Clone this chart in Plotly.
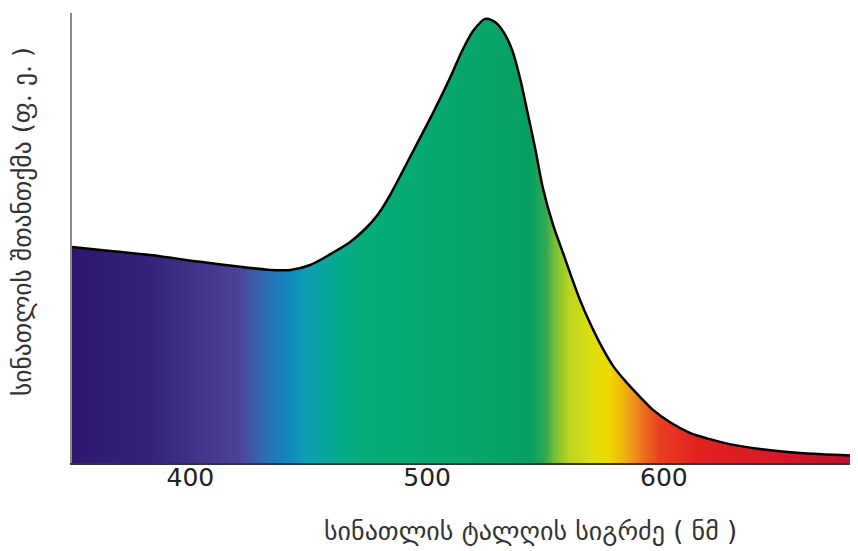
import plotly.graph_objects as go

# Data
wavelength_nm = [350.0, 366.2, 383.1, 404.2, 421.1, 433.8, 442.2, 450.6, 459.1, 467.5, 473.8,
                 479.3, 484.4, 492.8, 502.5, 509.7, 514.8, 519.4, 524.5, 528.7, 532.5, 535.9,
                 539.2, 542.2, 545.6, 548.9, 553.2, 557.4, 560.8, 564.6, 568.8, 573.8, 578.9,
                 584.4, 589.9, 595.4, 602.5, 611.0, 619.4, 627.8, 640.5, 657.4, 682.0]
absorbance = [48.0, 47.1, 46.2, 44.7, 43.6, 42.9, 42.9, 44.0, 46.4, 49.1, 52.0,
              55.3, 59.6, 68.0, 77.8, 85.6, 91.6, 96.0, 98.7, 98.0, 95.6, 91.8,
              85.6, 78.4, 70.0, 61.1, 52.9, 46.7, 41.6, 36.2, 31.1, 25.8, 21.3,
              17.8, 14.7, 11.8, 9.1, 6.7, 5.3, 4.2, 3.1, 2.2, 1.6]
x_ticks = [400, 500, 600]
x_title = "სინათლის ტალღის სიგრძე ( ნმ )"
y_title = "სინათლის შთანთქმა (ფ. ე. )"

# spectrum colour stops (style)
grad_nm = [350, 383, 404, 421, 427, 434, 442, 448.5, 459, 472, 510, 543.5, 550, 554, 560,
           569, 577, 583.5, 590, 598, 615, 649, 682]
grad_col = ["#2d186e", "#35227a", "#42358a", "#4c4399", "#3d5ba8", "#2575b5", "#1288c0",
            "#0e9eb5", "#06a896", "#05ad7a", "#07a86d", "#07a062", "#30a850", "#78be35",
            "#bcd520", "#dcdf10", "#eed800", "#f2b010", "#f07a20", "#e84020", "#e02020",
            "#d81828", "#b81030"]
x0, x1 = 350, 682
colorscale = [[(v - x0) / (x1 - x0), c] for v, c in zip(grad_nm, grad_col)]

fig = go.Figure()
fig.add_trace(go.Scatter(
    x=wavelength_nm, y=absorbance, mode="lines",
    line=dict(color="black", width=2.5, shape="spline", smoothing=0.8),
    fill="tozeroy",
    fillgradient=dict(type="horizontal", colorscale=colorscale, start=x0, stop=x1),
    hoverinfo="skip", showlegend=False,
))

# the page body adds an 8px offset at top/left
fig.update_layout(
    width=850, height=543,
    margin=dict(l=64, r=0, t=5, b=88),
    plot_bgcolor="white", paper_bgcolor="white",
    font=dict(family="DejaVu Sans", color="#222"),
    xaxis=dict(range=[x0, x1], tickvals=x_ticks, ticks="", showgrid=False, zeroline=False,
               showline=True, linecolor="#333", linewidth=2, ticklabelstandoff=-9,
               tickfont=dict(family="DejaVu Sans", size=25, color="#222")),
    yaxis=dict(range=[0, 100], showticklabels=False, ticks="", showgrid=False, zeroline=False,
               showline=True, linecolor="#888", linewidth=2),
    annotations=[
        dict(text=x_title, xref="paper", yref="paper", x=(530 - 72) / 786, y=0,
             yshift=-68, showarrow=False, xanchor="center", yanchor="middle",
             font=dict(family="DejaVu Sans", size=26, color="#333")),
        dict(text=y_title, xref="paper", yref="paper", x=0, xshift=-50,
             y=(463 - 222) / 450, showarrow=False, textangle=-90,
             xanchor="center", yanchor="middle",
             font=dict(family="DejaVu Sans", size=25.5, color="#333")),
    ],
)

fig.write_html("out.html")
